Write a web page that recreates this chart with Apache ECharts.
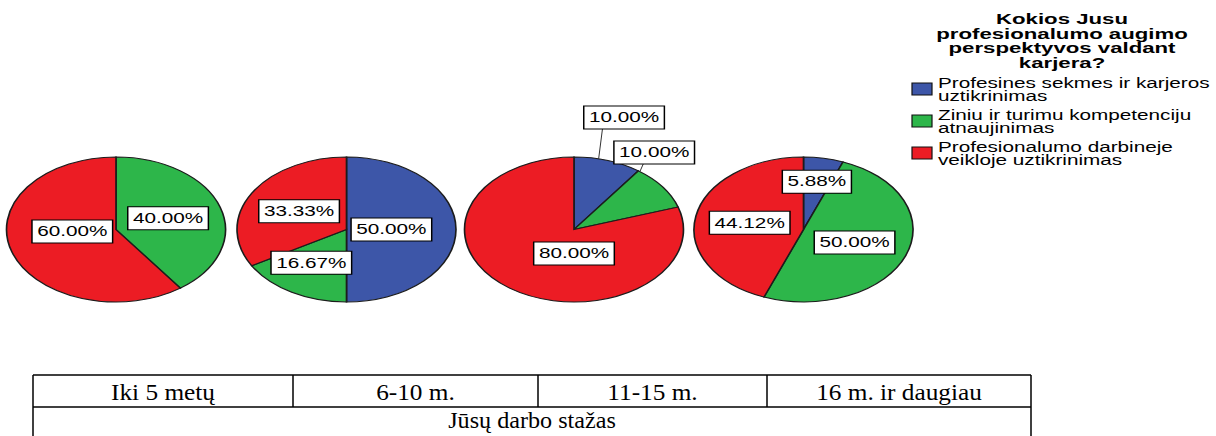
<!DOCTYPE html>
<html>
<head>
<meta charset="utf-8">
<script src="https://cdn.jsdelivr.net/npm/echarts@6/dist/echarts.min.js"></script>
<style>
  html, body { margin: 0; padding: 0; background: #fff; }
  #chart { width: 1216px; height: 436px; }
</style>
</head>
<body>
<div id="chart"></div>
<script>
// Work experience groups (one pie each) and the answer options
const categories = ['Iki 5 metų', '6-10 m.', '11-15 m.', '16 m. ir daugiau'];
const answers = [
  'Profesines sekmes ir karjeros\nuztikrinimas',
  'Ziniu ir turimu kompetenciju\natnaujinimas',
  'Profesionalumo darbineje\nveikloje uztikrinimas'
];
// Share of answers (%) within each experience group
const shareCareer = [0, 50.00, 10.00, 5.88];
const shareSkills = [40.00, 16.67, 10.00, 50.00];
const shareWork   = [60.00, 33.33, 80.00, 44.12];
const legendTitle = 'Kokios Jusu\nprofesionalumo augimo\nperspektyvos valdant\nkarjera?';
const axisTitle = 'Jūsų darbo stažas';

// ---- layout and styling ----
const COLORS = ['#3D56A8', '#2DB64A', '#EC1C24'];
const PIE = { cx: [116, 346.5, 574, 803.5], cy: 229.5, rx: 109.5, ry: 72.5 };
const STRETCH = 1.48;          // horizontal stretch of the chart lettering
const SANS = '"Liberation Sans", Arial, sans-serif';
const SERIF = '"Liberation Serif", "Times New Roman", serif';
// Label spots on the unit ellipse: [degrees clockwise from 12 o'clock, radius share].
// null = middle of the slice at half radius; {box, edge} = outside label with a leader line.
const labelSpots = [
  [null, null, [266, 0.40]],
  [[90, 0.41], [215, 0.56], null],
  [{ box: [16.5, 1.61], edge: 13 }, { box: [34.6, 1.29], edge: 37 }, [180, 0.33]],
  [[10.5, 0.67], null, null]
];
const TABLE = { left: 33, right: 1031, top: 375, mid: 407, bottom: 440, cols: [33, 293, 538, 767, 1031] };

// Slices: [pie, answer, startShare, endShare, percent]
const groups = [shareCareer, shareSkills, shareWork];
const sliceData = [];
categories.forEach((c, p) => {
  const total = groups.reduce((s, arr) => s + arr[p], 0);
  let acc = 0;
  groups.forEach((arr, k) => {
    const v = arr[p];
    if (v > 0) sliceData.push({ name: c, value: [p, k, acc / total, (acc + v) / total, v] });
    acc += v;
  });
});

function ellipsePoint(p, deg, r) {
  const a = deg * Math.PI / 180;
  return [PIE.cx[p] + Math.sin(a) * r * PIE.rx, PIE.cy - Math.cos(a) * r * PIE.ry];
}

function labelText(x, y, text) {
  return {
    type: 'text', x: x, y: y, scaleX: STRETCH, z2: 10,
    style: {
      text: text, x: 0, y: 0, align: 'center', verticalAlign: 'middle',
      font: '14px ' + SANS, fill: '#000', lineHeight: 14,
      backgroundColor: '#fff', borderColor: '#000', borderWidth: 1,
      padding: [4, 3, 4, 3]
    }
  };
}

function renderSlice(params, api) {
  const p = api.value(0), k = api.value(1), f0 = api.value(2), f1 = api.value(3), v = api.value(4);
  const cx = PIE.cx[p], cy = PIE.cy;
  const children = [{
    type: 'sector', x: cx, y: cy, scaleX: PIE.rx / PIE.ry, z2: 1,
    shape: {
      cx: 0, cy: 0, r: PIE.ry, r0: 0,
      startAngle: -Math.PI / 2 + f0 * 2 * Math.PI,
      endAngle: -Math.PI / 2 + f1 * 2 * Math.PI,
      clockwise: true
    },
    style: { fill: COLORS[k], stroke: '#1c1c1c', lineWidth: 1.1, strokeNoScale: true }
  }];
  const text = v.toFixed(2) + '%';
  const spot = labelSpots[p][k];
  if (spot && spot.box) {
    const b = ellipsePoint(p, spot.box[0], spot.box[1]);
    const e = ellipsePoint(p, spot.edge, 1);
    children.push({
      type: 'line', z2: 9,
      shape: { x1: e[0], y1: e[1], x2: e[0] + 4, y2: b[1] + 10 },
      style: { stroke: '#333', lineWidth: 1 }
    });
    children.push(labelText(b[0], b[1], text));
  } else {
    const deg = spot ? spot[0] : (f0 + f1) / 2 * 360;
    const r = spot ? spot[1] : 0.5;
    const pt = ellipsePoint(p, deg, r);
    children.push(labelText(pt[0], pt[1], text));
  }
  return { type: 'group', children: children };
}

// Legend block and the experience table underneath the pies
const graphics = [{
  type: 'text', x: 1062, y: 12, scaleX: STRETCH,
  style: {
    text: legendTitle, x: 0, y: 0, align: 'center', verticalAlign: 'top',
    font: 'bold 15px ' + SANS, lineHeight: 14.5, fill: '#000'
  }
}];
answers.forEach((name, k) => {
  graphics.push({
    type: 'rect', shape: { x: 912, y: 83 + 32 * k, width: 20, height: 12 },
    style: { fill: COLORS[k], stroke: '#111', lineWidth: 1.2 }
  });
  graphics.push({
    type: 'text', x: 938, y: 76 + 32 * k, scaleX: STRETCH,
    style: {
      text: name, x: 0, y: 0, align: 'left', verticalAlign: 'top',
      font: '14px ' + SANS, lineHeight: 13.5, fill: '#000'
    }
  });
});
const tLine = (x1, y1, x2, y2) => ({
  type: 'line', shape: { x1, y1, x2, y2 }, style: { stroke: '#000', lineWidth: 1.5 }
});
graphics.push(tLine(TABLE.left, TABLE.top, TABLE.right, TABLE.top));
graphics.push(tLine(TABLE.left, TABLE.mid, TABLE.right, TABLE.mid));
graphics.push(tLine(TABLE.left, TABLE.top, TABLE.left, TABLE.bottom));
graphics.push(tLine(TABLE.right, TABLE.top, TABLE.right, TABLE.bottom));
TABLE.cols.slice(1, -1).forEach(x => graphics.push(tLine(x, TABLE.top, x, TABLE.mid)));
categories.forEach((c, i) => {
  graphics.push({
    type: 'text', x: (TABLE.cols[i] + TABLE.cols[i + 1]) / 2, y: 392, scaleX: 1.1,
    style: { text: c, x: 0, y: 0, align: 'center', verticalAlign: 'middle', font: '23px ' + SERIF, fill: '#000' }
  });
});
graphics.push({
  type: 'text', x: (TABLE.left + TABLE.right) / 2, y: 420, scaleX: 1.05,
  style: { text: axisTitle, x: 0, y: 0, align: 'center', verticalAlign: 'middle', font: '23px ' + SERIF, fill: '#000' }
});

const chart = echarts.init(document.getElementById('chart'), null, { renderer: 'svg' });
chart.setOption({
  backgroundColor: '#fff',
  animation: false,
  series: [{
    type: 'custom',
    coordinateSystem: 'none',
    renderItem: renderSlice,
    data: sliceData
  }],
  graphic: graphics
});
</script>
</body>
</html>
